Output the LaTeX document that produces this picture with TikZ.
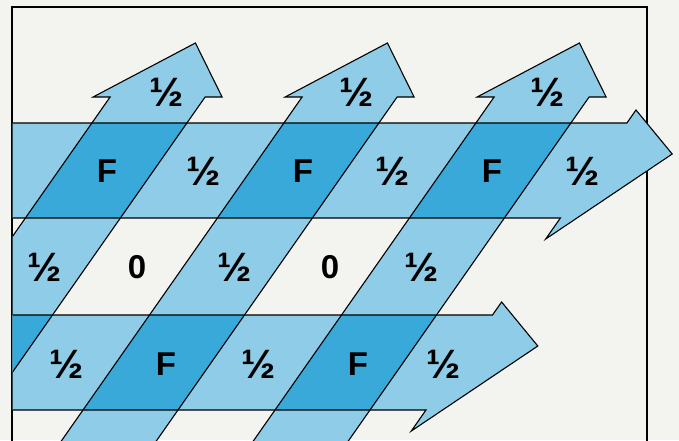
\documentclass[tikz,border=0pt]{standalone}
\usepackage{fontspec}
\setmainfont{Liberation Sans}
\definecolor{fond}{RGB}{243,243,240}
\definecolor{bleuclair}{RGB}{142,204,231}
\definecolor{bleufonce}{RGB}{56,169,216}
\tikzset{
  clair/.style={fill=bleuclair},
  fonce/.style={fill=bleufonce},
  contour/.style={draw=black, line width=1.1pt, line join=miter},
  chiffre/.style={font=\fontsize{33}{33}\selectfont\bfseries, inner sep=0pt},
  demi/.style={font=\fontsize{41}{41}\selectfont\bfseries, inner sep=0pt}
}
% bande horizontale (bord haut #1) et fleche oblique (bord gauche #1)
\newcommand{\bande}[1]{(-250,#1) -- (713,#1) -- (713,{#1-13}) -- (780,{#1+31}) -- (713,{#1+116}) -- (713,{#1+95}) -- (-250,{#1+95}) -- cycle}
\newcommand{\fleche}[1]{(#1,460) -- (#1,97) -- ({#1-17},97) -- ({#1+47.5},43) -- ({#1+112},97) -- ({#1+95},97) -- ({#1+95},460) -- cycle}
\begin{document}
\begin{tikzpicture}[x=1pt,y=-1pt]
    % Fond et cadre
    \fill[fond] (0,0) rectangle (679,440);
    \useasboundingbox (0,0) rectangle (679,440);
    \draw[line width=1.1pt] (12,470) -- (12,7) -- (647,7) -- (647,470);
    \begin{scope}
        \clip (12.6,0) rectangle (679,440);
        \begin{scope}[x={(1pt,0pt)},y={(-0.7pt,-1pt)}]
            % Remplissage
            \foreach \h in {123,315}
                \fill[clair] \bande{\h};
            \foreach \s in {178,370,562}
                \fill[clair] \fleche{\s};
            % Croisements
            \foreach \h in {123,315}
                \foreach \s in {178,370,562}
                    \fill[fonce] (\s,\h) -- ({\s+95},\h) -- ({\s+95},{\h+95}) -- (\s,{\h+95}) -- cycle;
            % Contours
            \foreach \h in {123,315}
                \path[contour] \bande{\h};
            \foreach \s in {178,370,562}
                \path[contour] \fleche{\s};
        \end{scope}
    \end{scope}
    % Valeurs
    \foreach \x/\y/\n in {167/92/p1, 357/92/p2, 548/92/p3,
        204/171/a2, 393/171/a4, 583/171/a6,
        45/267/b1, 235/267/b3, 422/267/b5,
        67/364/c1, 259/364/c3, 444/364/c5}
        \node[demi] (\n) at (\x,\y) {½};
    \foreach \x/\y/\t/\n in {107/171/F/a1, 303/171/F/a3, 492/171/F/a5,
        137/267/0/b2, 330/267/0/b4,
        166/364/F/c2, 358/364/F/c4}
        \node[chiffre] (\n) at (\x,\y) {\t};
\end{tikzpicture}
\end{document}
